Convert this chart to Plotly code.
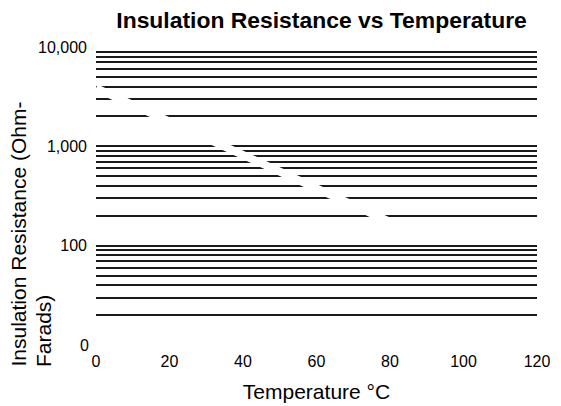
import plotly.graph_objects as go

# Data
temperature_c = [0, 10, 20, 30, 40, 50, 60, 70, 80]
resistance = [3850, 2600, 1770, 1200, 810, 550, 375, 256, 174]

x_ticks = [0, 20, 40, 60, 80, 100, 120]
y_grid_vals = [20, 30, 40, 50, 60, 70, 80, 90,
               100, 200, 300, 400, 500, 600, 700, 800, 900,
               1000, 2000, 3000, 4000, 5000, 6000, 7000, 8000, 9000, 10000]
y_label_map = {100: "100", 1000: "1,000", 10000: "10,000"}
y_grid_text = [y_label_map.get(v, "") for v in y_grid_vals]
y_bottom_vals = [10]
y_bottom_text = ["0"]

FONT = "Arial, Liberation Sans, sans-serif"

fig = go.Figure()
fig.add_trace(go.Scatter(
    x=temperature_c, y=resistance, mode="lines",
    line=dict(color="white", width=8),
    showlegend=False, hoverinfo="skip",
))
# invisible trace to activate the overlay axis
fig.add_trace(go.Scatter(
    x=[None], y=[None], yaxis="y2", showlegend=False, hoverinfo="skip",
))

fig.update_layout(
    width=553, height=398,
    margin=dict(l=88, r=24, t=39, b=61, autoexpand=False),
    paper_bgcolor="white", plot_bgcolor="white",
    font=dict(family=FONT, color="black", size=16),
    title=dict(
        text="<b>Insulation Resistance vs Temperature</b>",
        x=0.567, xanchor="center", y=0.971, yanchor="middle",
        font=dict(size=22.9, family=FONT, color="black"),
    ),
    xaxis=dict(
        range=[0, 120], tickvals=x_ticks, showgrid=False, zeroline=False,
        showline=False, ticks="", ticklabelstandoff=5, automargin=False,
        tickfont=dict(size=16, family=FONT),
        title=dict(text="Temperature °C", font=dict(size=21, family=FONT), standoff=15),
    ),
    yaxis=dict(
        type="log", range=[1, 4], tickmode="array",
        tickvals=y_grid_vals, ticktext=y_grid_text, automargin=False,
        showgrid=True, gridcolor="#1a1a1a", gridwidth=1.5,
        zeroline=False, showline=False, ticks="", ticklabelstandoff=8,
        tickfont=dict(size=16, family=FONT),
    ),
    yaxis2=dict(
        type="log", range=[1, 4], overlaying="y", side="left", automargin=False,
        tickmode="array", tickvals=y_bottom_vals, ticktext=y_bottom_text,
        showgrid=False, zeroline=False, showline=False, ticks="",
        ticklabelstandoff=6, tickfont=dict(size=16, family=FONT),
    ),
    annotations=[
        dict(text="Insulation Resistance (Ohm-", xref="paper", yref="paper",
             x=0, y=0, xshift=-78, yshift=-24, xanchor="center", yanchor="bottom",
             textangle=-90, showarrow=False, font=dict(size=21, family=FONT)),
        dict(text="Farads)", xref="paper", yref="paper",
             x=0, y=0, xshift=-53, yshift=-24, xanchor="center", yanchor="bottom",
             textangle=-90, showarrow=False, font=dict(size=21, family=FONT)),
    ],
)

fig.write_html("out.html")
